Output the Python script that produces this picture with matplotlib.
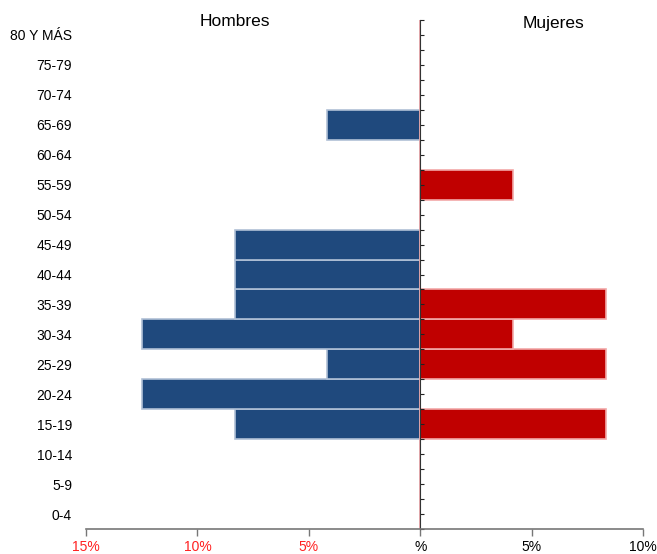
#Python code for plotting a population pyramid
import numpy as np
import matplotlib.pyplot as plt

plt.rcParams['font.family'] = ['Liberation Sans', 'DejaVu Sans']

#Data
grupos = ['0-4', '5-9', '10-14', '15-19', '20-24', '25-29', '30-34', '35-39',
          '40-44', '45-49', '50-54', '55-59', '60-64', '65-69', '70-74',
          '75-79', '80 Y MÁS']
hombres = [0, 0, 0, 8.33, 12.5, 4.17, 12.5, 8.33, 8.33, 8.33, 0, 0, 0, 4.17, 0, 0, 0]
mujeres = [0, 0, 0, 8.33, 0, 8.33, 4.17, 8.33, 0, 0, 0, 4.17, 0, 0, 0, 0, 0]
xticks = [-15, -10, -5, 0, 5, 10]
xlabels = ['15%', '10%', '5%', '%', '5%', '10%']

y = np.arange(len(grupos))

#Create the plot
fig = plt.figure(figsize=(6.57, 5.54), dpi=100)
ax = fig.add_axes([0.1309, 0.0451, 0.8478, 0.9188])

ax.barh(y, -np.array(hombres), height=1.0, color='#1f497d',
        edgecolor='#b0c0d6', linewidth=1.2)
ax.barh(y, mujeres, height=1.0, color='#c00000',
        edgecolor='#f2a8a8', linewidth=1.2)

#Axes
ax.set_xlim(-15, 10)
ax.set_ylim(-0.5, 16.5)
ax.spines['top'].set_visible(False)
ax.spines['left'].set_visible(False)
ax.spines['right'].set_position(('data', 0))
ax.spines['right'].set_color('#333333')
ax.spines['bottom'].set_color('#777777')
ax.spines['bottom'].set_linewidth(1.2)

ax.set_yticks(y)
ax.set_yticklabels(grupos)
ax.set_yticks(np.arange(-0.5, 17, 1), minor=True)
ax.tick_params(axis='y', which='both', left=False, right=True,
               labelleft=True, labelright=False, direction='out',
               length=3, width=0.8, color='#222222', labelsize=10, pad=7)

ax.set_xticks(xticks)
ax.set_xticklabels(xlabels)
ax.tick_params(axis='x', direction='out', length=5, width=1, color='#777777',
               labelsize=10, pad=3)
for lab, v in zip(ax.get_xticklabels(), xticks):
    lab.set_color('#ff2020' if v < 0 else 'black')

#Titles
fig.text(0.358, 0.962, 'Hombres', ha='center', va='center', fontsize=12.5)
fig.text(0.842, 0.958, 'Mujeres', ha='center', va='center', fontsize=12.5)

#Save the plot
plt.savefig('out.png', dpi=100)
